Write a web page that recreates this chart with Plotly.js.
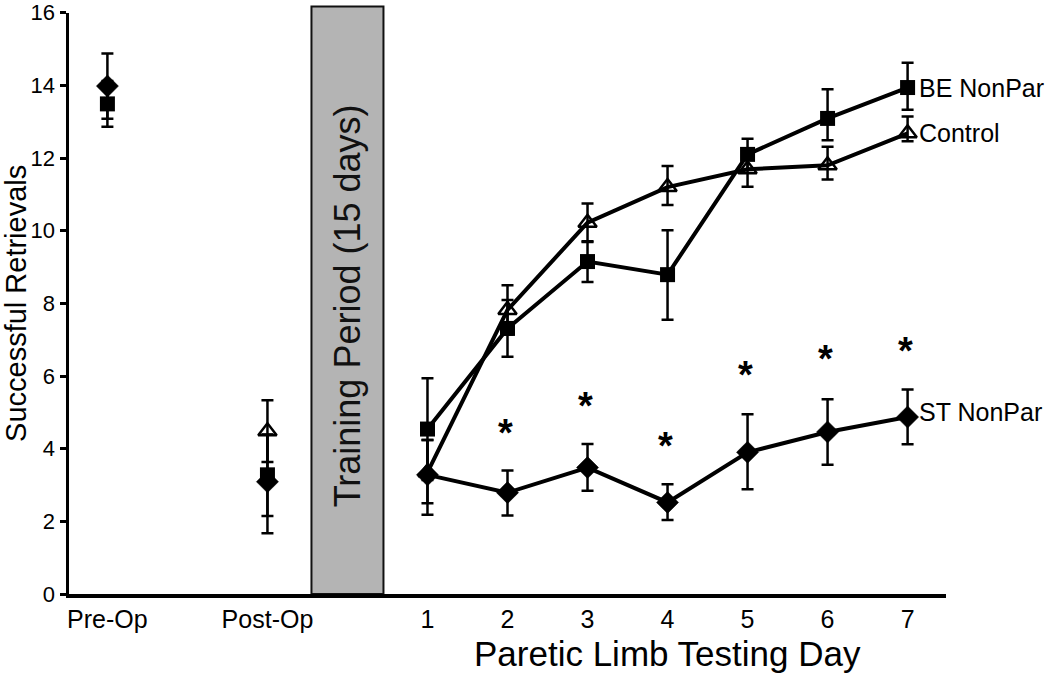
<!DOCTYPE html>
<html>
<head>
<meta charset="utf-8">
<script src="https://cdn.plot.ly/plotly-3.0.1.min.js"></script>
<style>html,body{margin:0;padding:0;background:#fff;}#chart{width:1050px;height:673px;}</style>
</head>
<body>
<div id="chart"></div>
<script>
// ---- Data ----
const slots = ['Pre-Op', '', 'Post-Op', 'Training', '1', '2', '3', '4', '5', '6', '7'];
const phaseLabels = ['Pre-Op', 'Post-Op'];
const dayLabels = ['1', '2', '3', '4', '5', '6', '7'];
const tickLabels = ['Pre-Op', 'Post-Op', '1', '2', '3', '4', '5', '6', '7'];

const controlName = 'Control';
const controlPhase = [null, 4.48];
const controlPhasePlus = [0, 0.85];
const controlPhaseMinus = [0, 0.85];
const controlDays = [3.35, 7.82, 10.22, 11.20, 11.69, 11.80, 12.68];
const controlDaysPlus = [0.89, 0.68, 0.53, 0.58, 0.48, 0.51, 0.46];
const controlDaysMinus = [0.85, 0.68, 0.53, 0.49, 0.48, 0.39, 0.22];

const beName = 'BE NonPar';
const bePhase = [13.49, 3.28];
const bePhasePlus = [0.63, 1.10];
const bePhaseMinus = [0.63, 1.13];
const beDays = [4.54, 7.31, 9.15, 8.79, 12.10, 13.09, 13.94];
const beDaysPlus = [1.40, 0.78, 0.56, 1.22, 0.43, 0.80, 0.68];
const beDaysMinus = [1.40, 0.78, 0.56, 1.24, 0.43, 0.60, 0.61];

const stName = 'ST NonPar';
const stPhase = [13.98, 3.09];
const stPhasePlus = [0.90, 1.30];
const stPhaseMinus = [0.90, 1.42];
const stDays = [3.28, 2.79, 3.48, 2.52, 3.90, 4.46, 4.87];
const stDaysPlus = [0.96, 0.61, 0.65, 0.50, 1.05, 0.90, 0.76];
const stDaysMinus = [1.10, 0.63, 0.64, 0.48, 1.02, 0.90, 0.75];

const starDays = ['2', '3', '4', '5', '6', '7'];
const starValues = [4.66, 5.39, 4.29, 6.24, 6.70, 6.91];

const trainingSlot = 'Training';
const trainingLabel = 'Training Period (15 days)';
const trainingHeight = 16.17;
const trainingLabelCenter = 7.93;

const xTitle = 'Paretic Limb Testing Day';
const xTitleAt = '4';
const yTitle = 'Successful Retrievals';

// ---- Helpers ----
const pos = s => slots.indexOf(s);
const FONT = 'Liberation Sans, Arial, Helvetica, sans-serif';

function series(labels, values, plus, minus, symbol, size, lineW, withLine) {
  return {
    type: 'scatter',
    x: labels.map(pos),
    y: values,
    mode: withLine ? 'lines+markers' : 'markers',
    line: {color: '#000', width: 4},
    marker: {symbol: symbol, size: size, color: '#000', line: {color: '#000', width: lineW}},
    error_y: {type: 'data', symmetric: false, array: plus, arrayminus: minus,
              color: '#000', thickness: 2.5, width: 6},
    cliponaxis: false,
    hoverinfo: 'skip',
    showlegend: false
  };
}

const traces = [
  series(dayLabels, controlDays, controlDaysPlus, controlDaysMinus, 'triangle-up-open', 16, 2.5, true),
  series(dayLabels, beDays, beDaysPlus, beDaysMinus, 'square', 15, 0, true),
  series(dayLabels, stDays, stDaysPlus, stDaysMinus, 'diamond', 17, 0.5, true),
  series(phaseLabels, controlPhase, controlPhasePlus, controlPhaseMinus, 'triangle-up-open', 16, 2.5, false),
  series(phaseLabels, bePhase, bePhasePlus, bePhaseMinus, 'square', 15, 0, false),
  series(phaseLabels, stPhase, stPhasePlus, stPhaseMinus, 'diamond', 17, 0.5, false),
  {
    type: 'bar', x: [pos(trainingSlot)], y: [trainingHeight], width: [0.9],
    xaxis: 'x2', yaxis: 'y2',
    marker: {color: '#b4b4b4', line: {color: '#111', width: 2}},
    hoverinfo: 'skip', showlegend: false
  }
];

const annotations = [];
// asterisks
starDays.forEach((d, i) => annotations.push({
  x: pos(d), y: starValues[i], xref: 'x', yref: 'y', text: '<b>*</b>', showarrow: false,
  font: {family: FONT, size: 38, color: '#000'}, xanchor: 'center', yanchor: 'middle', yshift: -8, xshift: -2
}));
// series labels
const last = arr => arr[arr.length - 1];
[[beName, last(beDays)], [controlName, last(controlDays)], [stName, last(stDays)]].forEach(([t, v], i) => annotations.push({
  x: pos(last(dayLabels)), y: v, xref: 'x', yref: 'y', text: t, showarrow: false,
  font: {family: FONT, size: 25, color: '#000'}, xanchor: 'left', yanchor: 'middle', xshift: 9,
  yshift: i === 2 ? 5 : 0
}));
// training label
annotations.push({
  x: pos(trainingSlot), y: trainingLabelCenter, xref: 'x', yref: 'y', text: trainingLabel,
  textangle: -90, showarrow: false, font: {family: FONT, size: 36, color: '#111'},
  xanchor: 'center', yanchor: 'middle'
});
// x title
annotations.push({
  x: pos(xTitleAt), y: 0, xref: 'x', yref: 'paper', text: xTitle, showarrow: false,
  font: {family: FONT, size: 35, color: '#000'}, xanchor: 'center', yanchor: 'top', yshift: -38
});

const plotTop = 4, plotBottom = 594, axisTopPx = 12.7;
const yDomainTop = (plotBottom - axisTopPx) / (plotBottom - plotTop);
const xr = [-0.48, 10.48];

const layout = {
  width: 1050, height: 673,
  margin: {l: 69, r: 104, t: plotTop, b: 673 - plotBottom, pad: 0},
  paper_bgcolor: '#fff', plot_bgcolor: 'rgba(0,0,0,0)',
  font: {family: FONT, color: '#000'},
  showlegend: false,
  xaxis: {
    domain: [0, 1], range: xr, showgrid: false, zeroline: false,
    showline: true, linecolor: '#000', linewidth: 3.5, ticks: '',
    tickmode: 'array', tickvals: tickLabels.map(pos), ticktext: tickLabels,
    tickfont: {family: FONT, size: 25, color: '#000'}, anchor: 'y'
  },
  yaxis: {
    domain: [0, yDomainTop], range: [0, 16], dtick: 2, showgrid: false, zeroline: false,
    showline: true, linecolor: '#000', linewidth: 3.5,
    ticks: 'outside', ticklen: 6, tickwidth: 3, tickcolor: '#000',
    tickfont: {family: FONT, size: 22, color: '#000'},
    title: {text: yTitle, font: {family: FONT, size: 29, color: '#000'}, standoff: 14},
    anchor: 'x'
  },
  xaxis2: {domain: [0, 1], range: xr, visible: false, anchor: 'y2'},
  yaxis2: {domain: [0, 1], range: [0, 16 / yDomainTop], visible: false, anchor: 'x2'},
  annotations: annotations
};

Plotly.newPlot('chart', traces, layout, {displayModeBar: false, staticPlot: true});
</script>
</body>
</html>
